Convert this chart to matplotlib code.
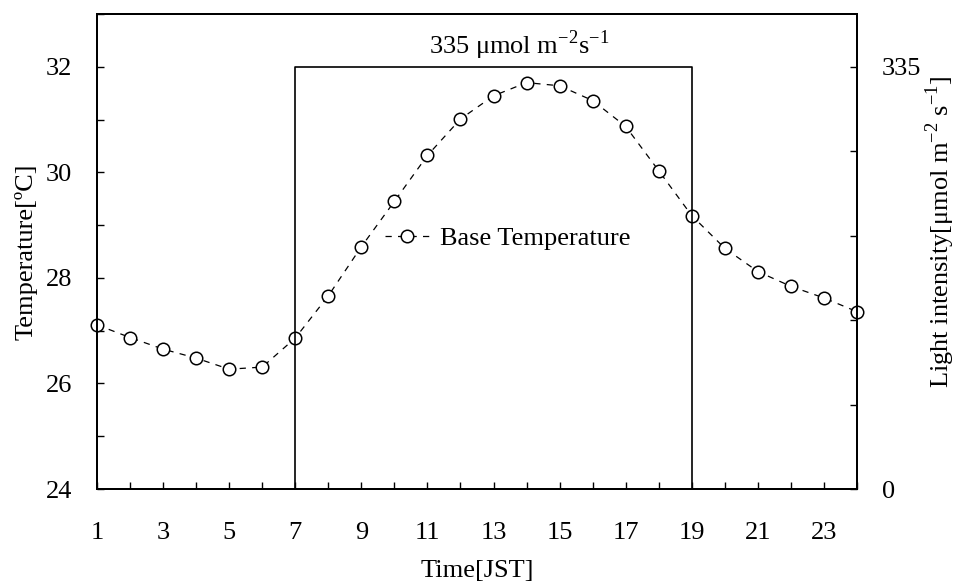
import matplotlib
matplotlib.use("Agg")
import matplotlib.pyplot as plt
from matplotlib.ticker import MultipleLocator, FixedLocator

plt.rcParams['font.family'] = ['Liberation Serif', 'DejaVu Serif']
plt.rcParams['mathtext.fontset'] = 'custom'
plt.rcParams['mathtext.rm'] = 'Liberation Serif'

hours = list(range(1, 25))
base_temp = [27.11, 26.87, 26.65, 26.48, 26.27, 26.31, 26.86, 27.66, 28.59, 29.45,
             30.32, 31.01, 31.45, 31.70, 31.64, 31.36, 30.87, 30.03, 29.18, 28.56,
             28.12, 27.84, 27.62, 27.36]
light_hours = [7, 7, 19, 19]
light_values = [0, 335, 335, 0]
x_tick_labels = [str(h) for h in range(1, 24, 2)]

FS = 19

fig = plt.figure(figsize=(9.59, 5.81), dpi=100)
ax = fig.add_axes([97/959, 1 - 489/581, 760/959, 475/581])
ax2 = ax.twinx()

ax.plot(hours, base_temp, linestyle=(0, (5, 5)), color='black', lw=0.9,
        marker='o', markersize=9, markerfacecolor='white', markeredgecolor='black',
        markeredgewidth=1.1, label='Base Temperature', zorder=3, clip_on=False)
ax2.plot(light_hours, light_values, color='black', lw=1.2)

ax.set_xlim(1, 24)
ax.set_ylim(24, 33)
ax2.set_ylim(0, 335 * 9 / 8)

ax.xaxis.set_major_locator(FixedLocator(range(1, 24, 2)))
ax.set_xticklabels(x_tick_labels)
ax.xaxis.set_minor_locator(MultipleLocator(1))
ax.yaxis.set_major_locator(FixedLocator([24, 26, 28, 30, 32]))
ax.yaxis.set_minor_locator(MultipleLocator(1))
ax2.yaxis.set_major_locator(FixedLocator([0, 335]))
ax2.yaxis.set_minor_locator(FixedLocator([67, 134, 201, 268]))

for a in (ax, ax2):
    a.tick_params(which='both', direction='in', length=5, width=1, labelsize=FS)
ax.tick_params(axis='x', which='both', top=False, pad=24)
ax.tick_params(axis='y', which='both', right=False, pad=18)
ax2.tick_params(axis='y', which='both', pad=18)

for s in ax.spines.values():
    s.set_linewidth(1.4)
for s in ax2.spines.values():
    s.set_linewidth(1.4)

ax.set_xlabel('Time[JST]', fontsize=FS, labelpad=11)
ax.set_ylabel('Temperature[ºC]', fontsize=FS, labelpad=6)
ax2.set_ylabel(r'Light intensity[$\mathrm{\mu}$mol m$^{-2}$ s$^{-1}$]', fontsize=FS)
ax2.yaxis.set_label_coords(1.087, 0.541)

ax.text(0.555, 0.935, r'335 $\mathrm{\mu}$mol m$^{-2}$s$^{-1}$', transform=ax.transAxes,
        ha='center', va='center', fontsize=FS)

leg = ax.legend(loc='center left', bbox_to_anchor=(0.379, 0.528), frameon=False,
                fontsize=FS, handlelength=1.7, handletextpad=0.4, borderpad=0,
                borderaxespad=0)

fig.savefig('out.png', dpi=100)
